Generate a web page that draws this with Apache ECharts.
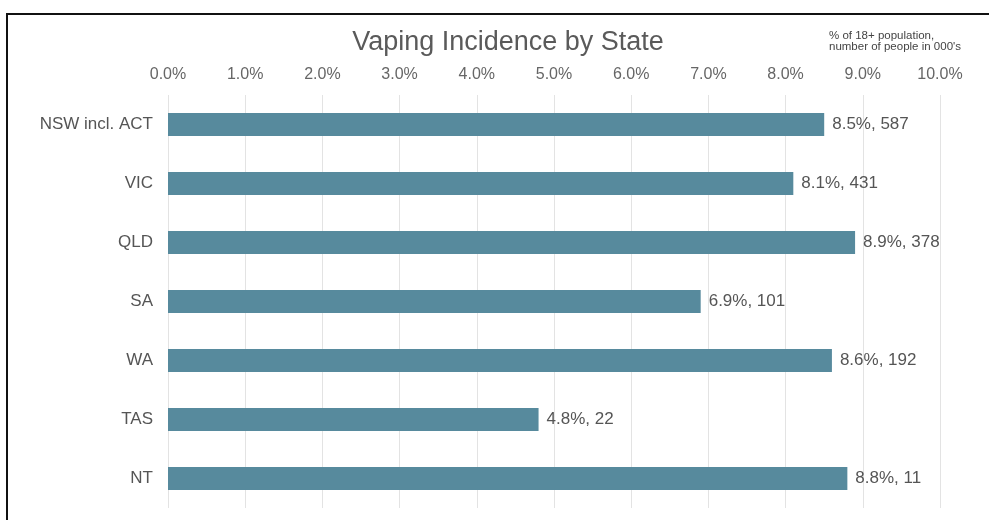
<!DOCTYPE html>
<html>
<head>
<meta charset="utf-8">
<script src="https://cdn.jsdelivr.net/npm/echarts@6/dist/echarts.min.js"></script>
<style>
html,body{margin:0;padding:0;background:#fff;}
#main{width:989px;height:520px;}
</style>
</head>
<body>
<div id="main"></div>
<script>
// states, top to bottom
var states = ['NSW incl. ACT', 'VIC', 'QLD', 'SA', 'WA', 'TAS', 'NT'];
// % of 18+ population
var pctValues = [8.5, 8.1, 8.9, 6.9, 8.6, 4.8, 8.8];
// number of people in 000's
var peopleValues = [587, 431, 378, 101, 192, 22, 11];

var myChart = echarts.init(document.getElementById('main'));

var options = {
    backgroundColor: '#fff',
    textStyle: {
        fontFamily: 'Liberation Sans, Arial, sans-serif'
    },
    title: {
        text: 'Vaping Incidence by State',
        left: 503,
        top: 24,
        textAlign: 'center',
        textStyle: {
            color: '#5a5a5a',
            fontSize: 27,
            fontWeight: 'normal'
        }
    },
    graphic: [
        {
            type: 'rect',
            shape: {x: 7, y: 14, width: 1000, height: 520},
            style: {fill: 'none', stroke: '#111', lineWidth: 2},
            silent: true
        },
        {
            type: 'text',
            left: 829,
            top: 30,
            style: {
                text: '% of 18+ population,\nnumber of people in 000\'s',
                fill: '#444',
                fontSize: 11.5,
                lineHeight: 11,
                fontFamily: 'Liberation Sans, Arial, sans-serif'
            }
        }
    ],
    grid: {
        left: 168,
        right: 49,
        top: 95,
        bottom: 12
    },
    xAxis: {
        type: 'value',
        position: 'top',
        min: 0,
        max: 10,
        interval: 1,
        axisLine: {show: false},
        axisTick: {show: false},
        axisLabel: {
            color: '#666',
            fontSize: 16,
            margin: 12,
            formatter: function (v) { return v.toFixed(1) + '%'; }
        },
        splitLine: {
            show: true,
            lineStyle: {color: '#e3e3e3', width: 1}
        }
    },
    yAxis: {
        type: 'category',
        data: states,
        inverse: true,
        axisLine: {show: false},
        axisTick: {show: false},
        axisLabel: {
            color: '#555',
            fontSize: 17,
            margin: 15
        }
    },
    series: [
        {
            type: 'bar',
            data: pctValues,
            barWidth: 23,
            itemStyle: {color: '#578a9d'},
            label: {
                show: true,
                position: 'right',
                distance: 8,
                color: '#555',
                fontSize: 17,
                formatter: function (p) {
                    return p.value.toFixed(1) + '%, ' + peopleValues[p.dataIndex];
                }
            }
        }
    ]
};

myChart.setOption(options);
</script>
</body>
</html>
